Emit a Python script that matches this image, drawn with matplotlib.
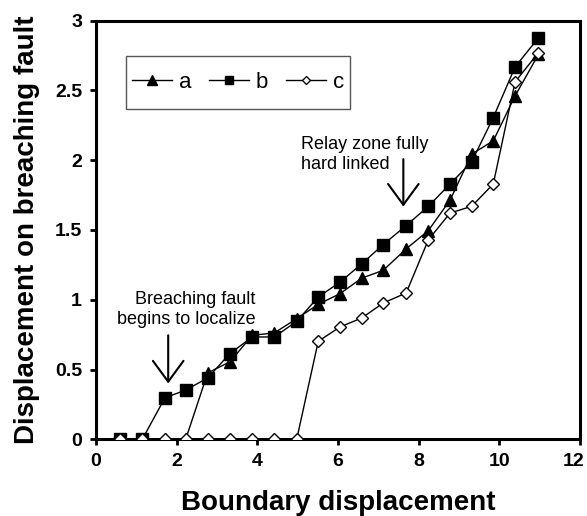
import matplotlib
matplotlib.use("Agg")
import matplotlib.pyplot as plt
import matplotlib.transforms as mtransforms
from matplotlib.patches import Rectangle

x = [0.595, 1.148, 1.711, 2.224, 2.77, 3.32, 3.875, 4.42, 4.976, 5.51,
     6.05, 6.59, 7.12, 7.69, 8.24, 8.78, 9.315, 9.85, 10.39, 10.97]
a = [0, 0, 0, 0, 0.476, 0.555, 0.745, 0.762, 0.864, 0.967,
     1.043, 1.155, 1.21, 1.364, 1.495, 1.714, 2.043, 2.138, 2.46, 2.757]
b = [0, 0, 0.298, 0.352, 0.44, 0.614, 0.733, 0.733, 0.845, 1.019,
     1.126, 1.257, 1.395, 1.531, 1.669, 1.829, 1.988, 2.305, 2.667, 2.876]
c = [0, 0, 0, 0, 0, 0, 0, 0, 0, 0.702,
     0.805, 0.869, 0.976, 1.048, 1.429, 1.621, 1.669, 1.829, 2.56, 2.77]
series_names = ["a", "b", "c"]
xticks = [0, 2, 4, 6, 8, 10, 12]
yticks = [0, 0.5, 1, 1.5, 2, 2.5, 3]
ytick_labels = ["0", "0.5", "1", "1.5", "2", "2.5", "3"]

plt.rcParams['font.family'] = ['Liberation Sans', 'DejaVu Sans']

fig = plt.figure(figsize=(5.87, 5.16), dpi=100)
ax = fig.add_axes([96 / 587, 1 - 439.3 / 516, 484 / 587, 418.8 / 516])

ax.plot(x, a, '-', color='black', lw=1.0, marker='^', ms=9, mfc='black', mec='black', label=series_names[0], zorder=3)
ax.plot(x, b, '-', color='black', lw=1.0, marker='s', ms=8, mfc='black', mec='black', label=series_names[1], zorder=3)
ax.plot(x, c, '-', color='black', lw=1.0, marker='D', ms=6, mfc='white', mec='black', mew=1.0, label=series_names[2], zorder=4)

ax.set_xlim(0, 12)
ax.set_ylim(0, 3)
ax.set_xticks(xticks)
ax.set_xticklabels([str(t) for t in xticks])
ax.set_yticks(yticks)
ax.set_yticklabels(ytick_labels)
ax.tick_params(direction='out', length=4, width=2, labelsize=14, pad=6)
for lab in ax.get_xticklabels() + ax.get_yticklabels():
    lab.set_fontweight('bold')
for sp in ax.spines.values():
    sp.set_linewidth(2.2)

# nudge the last x tick label inward so it stays inside the figure
last_lab = ax.get_xticklabels()[-1]
last_lab.set_transform(last_lab.get_transform() +
                       mtransforms.ScaledTranslation(-6 / 100, 0, fig.dpi_scale_trans))

ax.set_xlabel("Boundary displacement", fontsize=20, fontweight='bold', labelpad=14)
ax.set_ylabel("Displacement on breaching fault", fontsize=20, fontweight='bold', labelpad=11)

# legend box
ax.add_patch(Rectangle((0.062, 0.789), 0.463, 0.126, transform=ax.transAxes,
                       fill=True, facecolor='white', edgecolor='#555555', lw=1.0, zorder=5))
leg = ax.legend(ncol=3, loc='center', bbox_to_anchor=(0.2935, 0.852), fontsize=16,
                frameon=False, handlelength=1.8, handletextpad=0.3,
                columnspacing=0.8, markerscale=0.75, borderpad=0.2, borderaxespad=0)
leg.set_zorder(6)

arrow_style = '->, head_length=0.75, head_width=0.55'
ax.text(3.96, 0.93, "Breaching fault\nbegins to localize", ha='right', va='center',
        multialignment='right', fontsize=13, linespacing=1.25)
ax.annotate("", xy=(1.79, 0.40), xytext=(1.79, 0.745),
            arrowprops=dict(arrowstyle=arrow_style, lw=1.5, color='black', mutation_scale=20, shrinkA=0, shrinkB=0))
ax.text(5.08, 2.04, "Relay zone fully\nhard linked", ha='left', va='center',
        multialignment='left', fontsize=13, linespacing=1.25)
ax.annotate("", xy=(7.62, 1.667), xytext=(7.62, 2.007),
            arrowprops=dict(arrowstyle=arrow_style, lw=1.5, color='black', mutation_scale=20, shrinkA=0, shrinkB=0))

fig.savefig("out.png", dpi=100)
